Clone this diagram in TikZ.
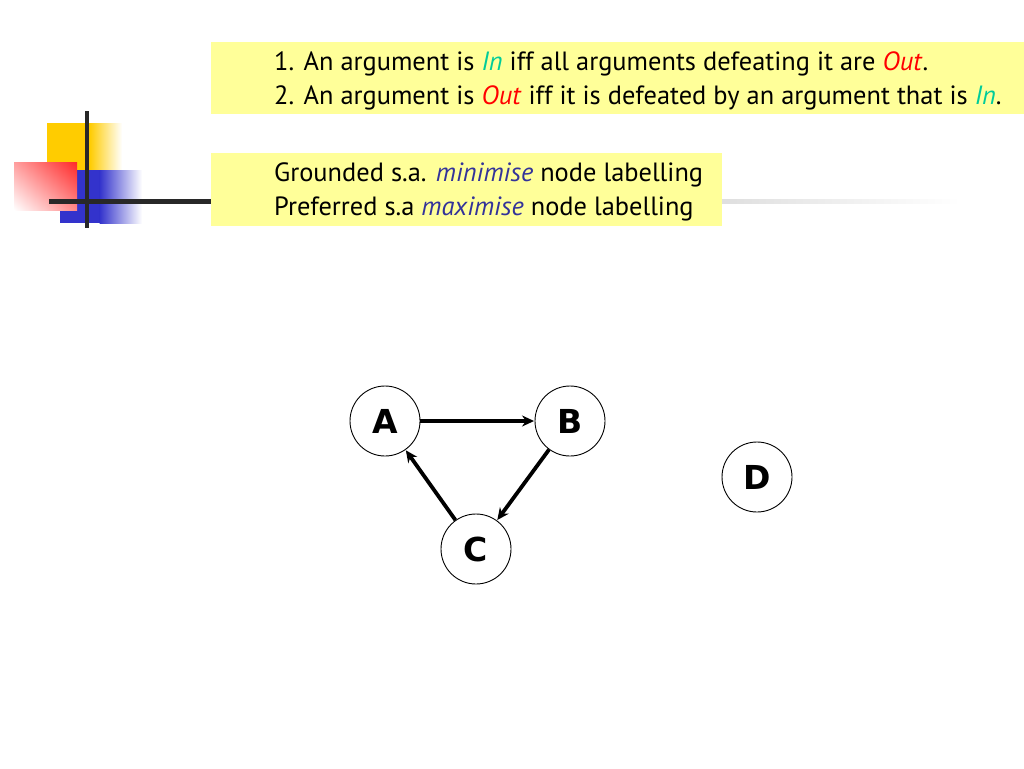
\documentclass[tikz,border=0pt]{standalone}
\usepackage{fontspec}
\setmainfont{PT Sans}
\newfontfamily\nodefont{DejaVu Sans}
\usetikzlibrary{arrows.meta,shadings}
\definecolor{boxyellow}{RGB}{255,255,153}
\definecolor{sqyellow}{RGB}{255,204,0}
\definecolor{sqblue}{RGB}{51,51,204}
\definecolor{sqred}{RGB}{255,40,40}
\definecolor{ingreen}{RGB}{0,204,153}
\definecolor{outred}{RGB}{255,0,0}
\definecolor{emblue}{RGB}{51,51,153}
\definecolor{barcol}{RGB}{40,40,40}
\tikzset{
  txt/.style={anchor=base west, inner sep=0pt, font=\fontsize{26.4}{30}\selectfont},
  arg/.style={circle, draw=black, line width=0.9pt, minimum size=70pt, inner sep=0pt, font=\nodefont\bfseries\fontsize{33}{36}\selectfont},
  attack/.style={-{Stealth[length=12pt,width=11pt]}, line width=3.8pt, shorten >=0.5pt},
}
\begin{document}
\begin{tikzpicture}[x=1pt,y=-1pt]
\useasboundingbox (0,0) rectangle (1024,768);
\fill[white] (0,0) rectangle (1024,768);
% decoration
\fill[sqyellow] (47,123) rectangle (90,170);
\shade[left color=sqyellow, right color=white] (89.5,123) rectangle (122,170);
\fill[sqblue] (60,170) rectangle (100,223);
\shade[left color=sqblue, right color=white] (99.5,170) rectangle (142,223);
\shade[upper right=sqred, lower left=white, upper left=sqred!45!white, lower right=sqred!55!white] (14,162) rectangle (77,210);
\draw[barcol, line width=4pt] (87,111) -- (87,228);
\fill[barcol] (49,198.5) rectangle (212,203.5);
\shade[left color=black!40, right color=white] (212,199) rectangle (960,203);
% text boxes
\fill[boxyellow] (211,42) rectangle (1024,114);
\fill[boxyellow] (211,153) rectangle (722,226);
\node[txt] (l1) at (274,70.5) {1. An argument is \textcolor{ingreen}{\textit{In}} iff all arguments defeating it are \textcolor{outred}{\textit{Out}}.};
\node[txt] (l2) at (274,104.5) {2. An argument is \textcolor{outred}{\textit{Out}} iff it is defeated by an argument that is \textcolor{ingreen}{\textit{In}}.};
\node[txt] (l3) at (274,181) {Grounded s.a. \textcolor{emblue}{\textit{minimise}} node labelling};
\node[txt] (l4) at (274,215) {Preferred s.a \textcolor{emblue}{\textit{maximise}} node labelling};
% graph
\node[arg] (A) at (385,421) {A};
\node[arg] (B) at (570,421) {B};
\node[arg] (C) at (476,549) {C};
\node[arg] (D) at (757,477) {D};
\draw[attack] (A) -- (B);
\draw[attack] (B) -- (C);
\draw[attack] (C) -- (A);
\end{tikzpicture}
\end{document}
